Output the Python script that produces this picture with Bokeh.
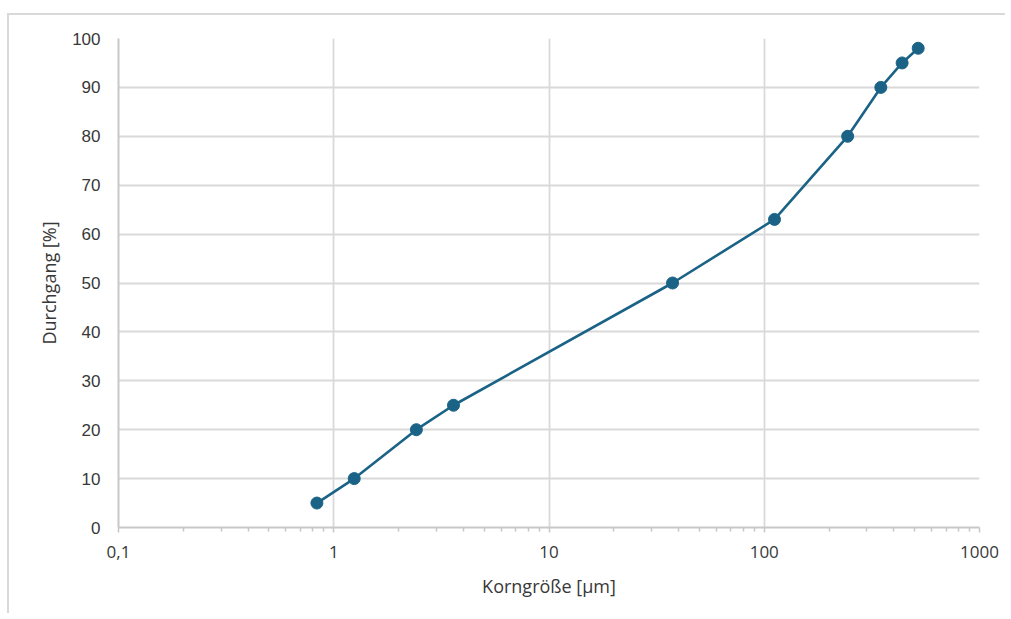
from bokeh.plotting import figure
from bokeh.models import FixedTicker, CustomJSTickFormatter, Range1d
from bokeh.embed import file_html
from bokeh.resources import INLINE

# Data
grain_size_um = [0.835, 1.245, 2.42, 3.6, 37.5, 111.6, 244, 348, 437, 519]
passing_pct = [5, 10, 20, 25, 50, 63, 80, 90, 95, 98]

x_major_ticks = [0.1, 1, 10, 100, 1000]
x_tick_labels = ["0,1", "1", "10", "100", "1000"]
x_minor_ticks = [m * d for d in [0.1, 1, 10, 100] for m in range(2, 10)]
y_ticks = list(range(0, 101, 10))

x_title = "Korngröße [µm]"
y_title = "Durchgang [%]"

line_color = "#1b6386"
grid_color = "#d9d9d9"
axis_color = "#c8c8c8"
text_color = "#383838"

p = figure(
    width=998, height=600,
    x_axis_type="log",
    x_range=Range1d(0.1, 1000), y_range=Range1d(0, 100),
    output_backend="svg", toolbar_location=None,
    min_border_left=109, min_border_right=28,
    min_border_top=23, min_border_bottom=88,
    margin=(13, 0, 0, 7),
    styles={"border-left": "2px solid #d9d9d9", "border-top": "2px solid #d9d9d9"},
)
p.outline_line_color = None
p.background_fill_color = "white"
p.border_fill_color = "white"

# ticks
p.xaxis.ticker = FixedTicker(ticks=x_major_ticks, minor_ticks=x_minor_ticks)
p.xaxis.formatter = CustomJSTickFormatter(
    args=dict(vals=x_major_ticks, labels=x_tick_labels),
    code="""
for (let i = 0; i < vals.length; i++) {
  if (Math.abs(Math.log10(vals[i]) - Math.log10(tick)) < 1e-6) return labels[i];
}
return "";
""")
p.yaxis.ticker = FixedTicker(ticks=y_ticks)

# axes styling
p.xaxis.axis_line_color = axis_color
p.xaxis.axis_line_width = 2
p.xaxis.major_tick_line_color = axis_color
p.xaxis.major_tick_line_width = 1.5
p.xaxis.major_tick_out = 5
p.xaxis.major_tick_in = 0
p.xaxis.minor_tick_line_color = axis_color
p.xaxis.minor_tick_line_width = 1.5
p.xaxis.minor_tick_out = 4
p.xaxis.minor_tick_in = 0
p.xaxis.major_label_text_font = "Open Sans"
p.xaxis.major_label_text_font_size = "17px"
p.xaxis.major_label_text_color = text_color
p.xaxis.major_label_standoff = 13
p.xaxis.axis_label = x_title
p.xaxis.axis_label_text_font = "Open Sans"
p.xaxis.axis_label_text_font_size = "18px"
p.xaxis.axis_label_text_font_style = "normal"
p.xaxis.axis_label_text_color = text_color
p.xaxis.axis_label_standoff = 13

p.yaxis.axis_line_color = axis_color
p.yaxis.axis_line_width = 2
p.yaxis.major_tick_line_color = None
p.yaxis.minor_tick_line_color = None
p.yaxis.major_tick_out = 0
p.yaxis.major_tick_in = 0
p.yaxis.minor_tick_out = 0
p.yaxis.major_label_text_font = "Liberation Sans"
p.yaxis.major_label_text_font_size = "17px"
p.yaxis.major_label_text_color = text_color
p.yaxis.major_label_standoff = 18
p.yaxis.axis_label = y_title
p.yaxis.axis_label_text_font = "Open Sans"
p.yaxis.axis_label_text_font_size = "18px"
p.yaxis.axis_label_text_font_style = "normal"
p.yaxis.axis_label_text_color = text_color
p.yaxis.axis_label_standoff = 8

p.xgrid.grid_line_color = grid_color
p.xgrid.grid_line_width = 1.8
p.ygrid.grid_line_color = grid_color
p.ygrid.grid_line_width = 1.8

p.line(grain_size_um, passing_pct, line_color=line_color, line_width=2.6)
p.scatter(grain_size_um, passing_pct, size=12, fill_color=line_color,
          line_color=line_color, marker="circle")

open("out.html", "w").write(file_html(p, INLINE))
